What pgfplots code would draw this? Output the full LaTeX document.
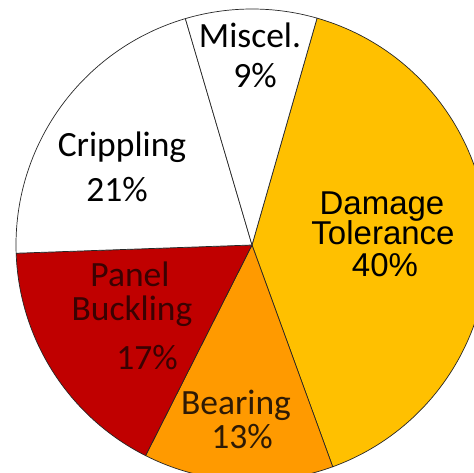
\documentclass[border=0pt]{standalone}
\usepackage{fontspec}
\setmainfont{Carlito}
\newfontfamily\arialfont{Liberation Sans}
\usepackage{pgfplots}
\pgfplotsset{compat=1.18}
\definecolor{dtol}{HTML}{FFC000}
\definecolor{bear}{HTML}{FF9A00}
\definecolor{panel}{HTML}{C00000}
\definecolor{paneltext}{HTML}{3A0202}
\definecolor{beartext}{HTML}{2E1A05}
\begin{document}
\begin{tikzpicture}
\begin{axis}[scale only axis, width=474pt, height=473pt,
  xmin=0, xmax=474, ymin=0, ymax=473, axis lines=none, clip=true]
% slices clockwise from 74 deg: Damage Tolerance 40, Bearing 13, Panel Buckling 17, Crippling 21, Miscel. 9
\filldraw[fill=dtol, draw=black!85, line width=0.7pt]
  (axis cs:252,228) -- ++(74:236pt) arc[start angle=74, end angle={74-3.6*40}, radius=236pt] -- cycle;
\filldraw[fill=bear, draw=black!85, line width=0.7pt]
  (axis cs:252,228) -- ++({74-3.6*40}:236pt) arc[start angle={74-3.6*40}, end angle={74-3.6*53}, radius=236pt] -- cycle;
\filldraw[fill=panel, draw=black!85, line width=0.7pt]
  (axis cs:252,228) -- ++({74-3.6*53}:236pt) arc[start angle={74-3.6*53}, end angle={74-3.6*70}, radius=236pt] -- cycle;
\filldraw[fill=white, draw=black!85, line width=0.7pt]
  (axis cs:252,228) -- ++({74-3.6*70}:236pt) arc[start angle={74-3.6*70}, end angle={74-3.6*91}, radius=236pt] -- cycle;
\filldraw[fill=white, draw=black!85, line width=0.7pt]
  (axis cs:252,228) -- ++({74-3.6*91}:236pt) arc[start angle={74-3.6*91}, end angle={74-3.6*100}, radius=236pt] -- cycle;
% labels
\tikzset{lab/.style={anchor=base, inner sep=0pt, font=\fontsize{35.5}{40}\selectfont}}
\tikzset{labA/.style={anchor=base, inner sep=0pt, font=\arialfont\fontsize{33}{38}\selectfont}}
\node[lab] at (axis cs:250,425.3) {Miscel.};
\node[lab] at (axis cs:255,385) {9\%};
\node[lab] at (axis cs:122,316.3) {Crippling};
\node[lab] at (axis cs:117,271.3) {21\%};
\node[lab, text=paneltext] at (axis cs:130,186.3) {Panel};
\node[lab, text=paneltext] at (axis cs:132,152.3) {Buckling};
\node[lab, text=paneltext] at (axis cs:147,103) {17\%};
\node[lab, text=beartext] at (axis cs:236,58) {Bearing};
\node[lab, text=beartext] at (axis cs:242,24.7) {13\%};
\node[labA, text depth=0pt] at (axis cs:382,258.5) {Damage};
\node[labA] at (axis cs:383,228) {Tolerance};
\node[labA] at (axis cs:385,196.3) {40\%};
\end{axis}
\pgfresetboundingbox
\path[use as bounding box] (current axis.south west) rectangle (current axis.north east);
\end{tikzpicture}
\end{document}
